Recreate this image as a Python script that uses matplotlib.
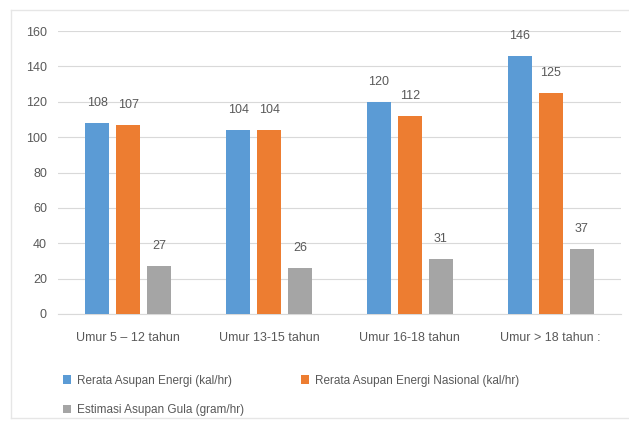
import numpy as np
import matplotlib.pyplot as plt
from matplotlib.lines import Line2D

categories = ['Umur 5 – 12 tahun', 'Umur 13-15 tahun', 'Umur 16-18 tahun', 'Umur > 18 tahun :']
energi = [108, 104, 120, 146]
energi_nasional = [107, 104, 112, 125]
gula = [27, 26, 31, 37]

series = [
    ('Rerata Asupan Energi (kal/hr)', energi, '#5b9bd5'),
    ('Rerata Asupan Energi Nasional (kal/hr)', energi_nasional, '#ed7d31'),
    ('Estimasi Asupan Gula (gram/hr)', gula, '#a5a5a5'),
]

text_color = '#595959'
plt.rcParams['font.family'] = ['Liberation Sans', 'DejaVu Sans']

fig = plt.figure(figsize=(6.29, 4.26), dpi=100)
ax = fig.add_axes([58 / 629, 1 - 314 / 426, 563 / 629, 283 / 426])

x = np.arange(len(categories))
width = 0.17
pitch = 0.22
bars = []
for i, (label, vals, color) in enumerate(series):
    b = ax.bar(x + (i - 1) * pitch, vals, width, color=color, label=label, zorder=3)
    bars.append(b)
    for xi, v in zip(x + (i - 1) * pitch, vals):
        ax.annotate(str(v), (xi, v), xytext=(0, 10), textcoords='offset points',
                    ha='center', va='bottom', fontsize=9, color=text_color)

ax.set_xlim(-0.5, len(categories) - 0.5)
ax.set_ylim(0, 160)
ax.set_yticks(range(0, 161, 20))
ax.set_xticks(x)
ax.set_xticklabels(categories)
ax.tick_params(axis='both', length=0, labelsize=9, labelcolor=text_color)
ax.tick_params(axis='x', pad=13)
ax.tick_params(axis='y', pad=8)
ax.grid(axis='y', color='#d9d9d9', linewidth=0.8, zorder=0)
for s in ['top', 'right', 'left']:
    ax.spines[s].set_visible(False)
ax.spines['bottom'].set_color('#d9d9d9')

# legend: two columns, filled column-first
order = [0, 2, 1]
handles = [bars[i] for i in order]
labels = [series[i][0] for i in order]
fig.legend(handles, labels, ncol=2, loc='upper left',
           bbox_to_anchor=(52 / 629, 1 - 364 / 426), frameon=False,
           fontsize=8.5, labelcolor=text_color, handlelength=0.7, handleheight=0.7,
           handletextpad=0.5, columnspacing=4.8, labelspacing=1.5)

# faint outer border
for xs, ys in [((11, 11), (10, 418)), ((11, 629), (10, 10)), ((11, 629), (418, 418))]:
    fig.add_artist(Line2D([v / 629 for v in xs], [1 - v / 426 for v in ys],
                          color='#e6e6e6', linewidth=1))

fig.savefig('out.png', dpi=100, facecolor='white')
